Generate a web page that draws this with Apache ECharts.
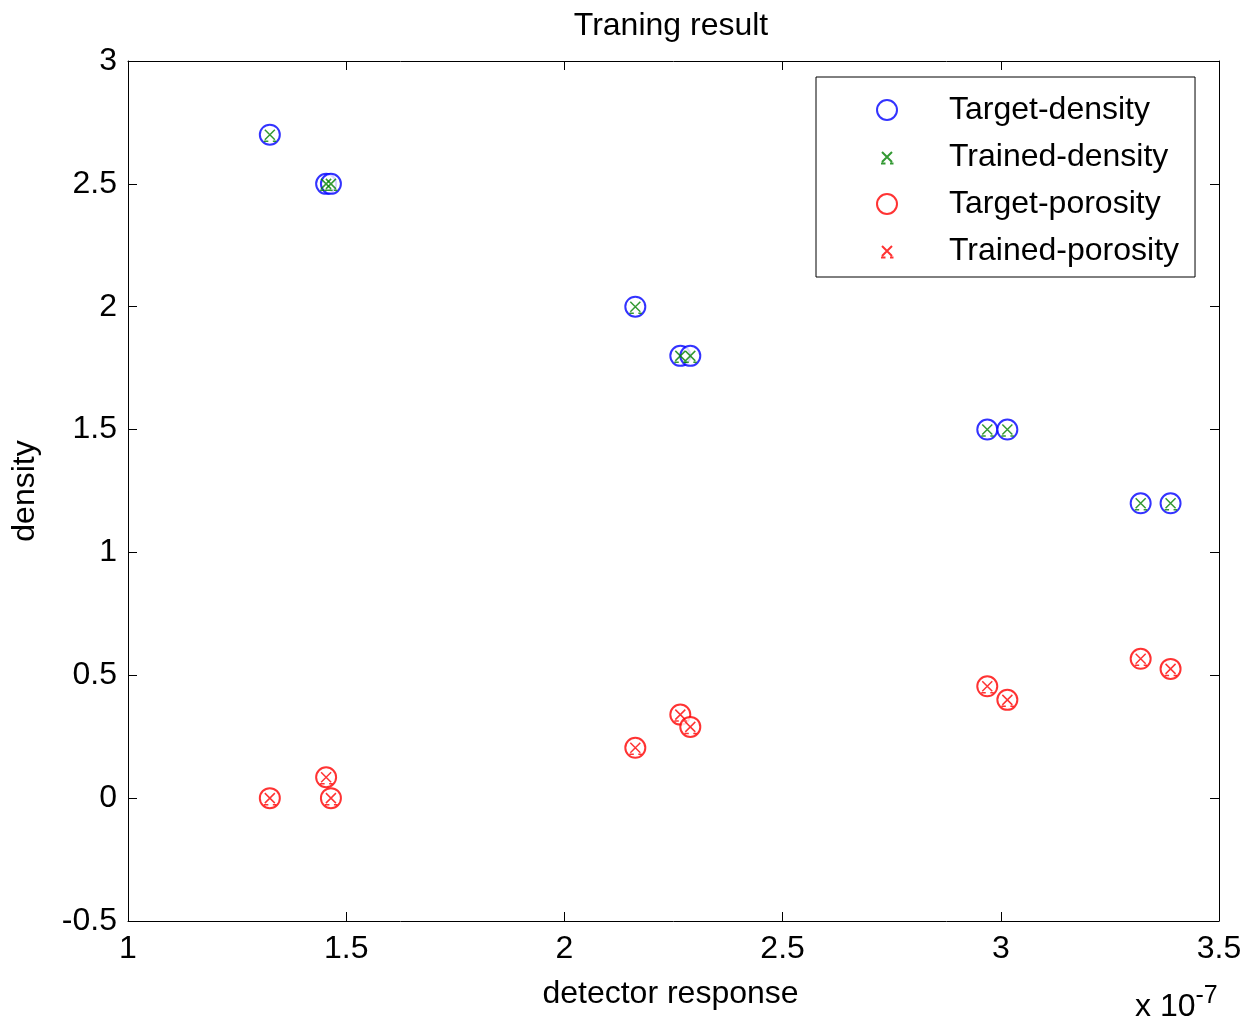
<!DOCTYPE html>
<html><head><meta charset="utf-8">
<script src="https://cdn.jsdelivr.net/npm/echarts@6/dist/echarts.min.js"></script>
<style>html,body{margin:0;padding:0;background:#fff}#c{width:1248px;height:1026px}</style>
</head><body><div id="c"></div>
<script>
// detector response, in units of 1e-7
const detectorResponse = [1.325, 1.454, 1.465, 2.1625, 2.2656, 2.2885, 2.969, 3.015, 3.3205, 3.389];
const targetDensity   = [2.7, 2.5, 2.5, 2.0, 1.8, 1.8, 1.5, 1.5, 1.2, 1.2];
const trainedDensity  = [2.7, 2.5, 2.5, 2.0, 1.8, 1.8, 1.5, 1.5, 1.2, 1.2];
const targetPorosity  = [0.0, 0.085, 0.0, 0.205, 0.34, 0.29, 0.455, 0.40, 0.567, 0.526];
const trainedPorosity = [0.0, 0.085, 0.0, 0.205, 0.34, 0.29, 0.455, 0.40, 0.567, 0.526];
const seriesNames = ['Target-density', 'Trained-density', 'Target-porosity', 'Trained-porosity'];
const xTicks = [1, 1.5, 2, 2.5, 3, 3.5];
const yTicks = [-0.5, 0, 0.5, 1, 1.5, 2, 2.5, 3];

const FONT = 'Liberation Sans, Arial, sans-serif';
const FS = 32;
const xMark = 'path://M0,0 M20,20 M5,5 L15,15 M15,5 L5,15 M4,16.5 L8.5,16.5 M13,16.5 L16.5,16.5';
const pair = (xs, ys) => xs.map((x, i) => [x, ys[i]]);

const chart = echarts.init(document.getElementById('c'));
const lineCommon = {show: true, onZero: false, lineStyle: {color: '#000', width: 1}};
const tickCommon = {show: true, inside: true, length: 9, lineStyle: {color: '#000', width: 1}};
const axisCommon = {
  min: xTicks[0], max: xTicks[xTicks.length - 1], interval: 0.5,
  splitLine: {show: false}, axisLine: lineCommon, axisTick: tickCommon
};
const yCommon = {
  min: yTicks[0], max: yTicks[yTicks.length - 1], interval: 0.5,
  splitLine: {show: false}, axisLine: lineCommon, axisTick: tickCommon
};
chart.setOption({
  backgroundColor: '#fff',
  animation: false,
  title: {
    text: 'Traning result', left: 666, top: 5, textAlign: 'center',
    textStyle: {fontFamily: FONT, fontSize: FS, fontWeight: 'normal', color: '#000'}
  },
  grid: {left: 128, right: 29, top: 61, bottom: 105},
  legend: {
    orient: 'vertical', left: 816, top: 77,
    data: seriesNames,
    itemWidth: 20, itemHeight: 20, itemGap: 15,
    padding: [17, 16, 10, 60],
    backgroundColor: '#fff', borderColor: '#000', borderWidth: 1,
    textStyle: {fontFamily: FONT, fontSize: FS, color: '#000', padding: [0, 0, 0, 47]}
  },
  xAxis: [
    Object.assign({}, axisCommon, {
      type: 'value', position: 'bottom',
      name: 'detector response', nameLocation: 'middle', nameGap: 57,
      nameTextStyle: {fontFamily: FONT, fontSize: FS, color: '#000', padding: [0, 6, 0, 0]},
      axisLabel: {fontFamily: FONT, fontSize: FS, color: '#000', margin: 12}
    }),
    Object.assign({}, axisCommon, {type: 'value', position: 'top', axisLabel: {show: false}})
  ],
  yAxis: [
    Object.assign({}, yCommon, {
      type: 'value', position: 'left',
      name: 'density', nameLocation: 'middle', nameGap: 87,
      nameTextStyle: {fontFamily: FONT, fontSize: FS, color: '#000'},
      axisLabel: {fontFamily: FONT, fontSize: FS, color: '#000', margin: 11}
    }),
    Object.assign({}, yCommon, {type: 'value', position: 'right', axisLabel: {show: false}})
  ],
  graphic: [{
    type: 'text', left: 1135, top: 984,
    style: {
      text: 'x 10{s|-7}', font: FS + 'px ' + FONT, fill: '#000',
      rich: {s: {fontFamily: FONT, fontSize: 25, verticalAlign: 'top', padding: [0, 0, 22, 0]}}
    }
  }],
  series: [
    {name: seriesNames[0], type: 'scatter', data: pair(detectorResponse, targetDensity),
     symbol: 'emptyCircle', symbolSize: 20,
     itemStyle: {color: '#0000ff', borderColor: '#0000ff', borderWidth: 1}},
    {name: seriesNames[1], type: 'scatter', data: pair(detectorResponse, trainedDensity),
     symbol: xMark, symbolSize: 20,
     itemStyle: {color: 'rgba(0,0,0,0)', borderColor: '#008000', borderWidth: 1.5}},
    {name: seriesNames[2], type: 'scatter', data: pair(detectorResponse, targetPorosity),
     symbol: 'emptyCircle', symbolSize: 20,
     itemStyle: {color: '#ff0000', borderColor: '#ff0000', borderWidth: 1}},
    {name: seriesNames[3], type: 'scatter', data: pair(detectorResponse, trainedPorosity),
     symbol: xMark, symbolSize: 20,
     itemStyle: {color: 'rgba(0,0,0,0)', borderColor: '#ff0000', borderWidth: 1.5}}
  ]
});
</script></body></html>
